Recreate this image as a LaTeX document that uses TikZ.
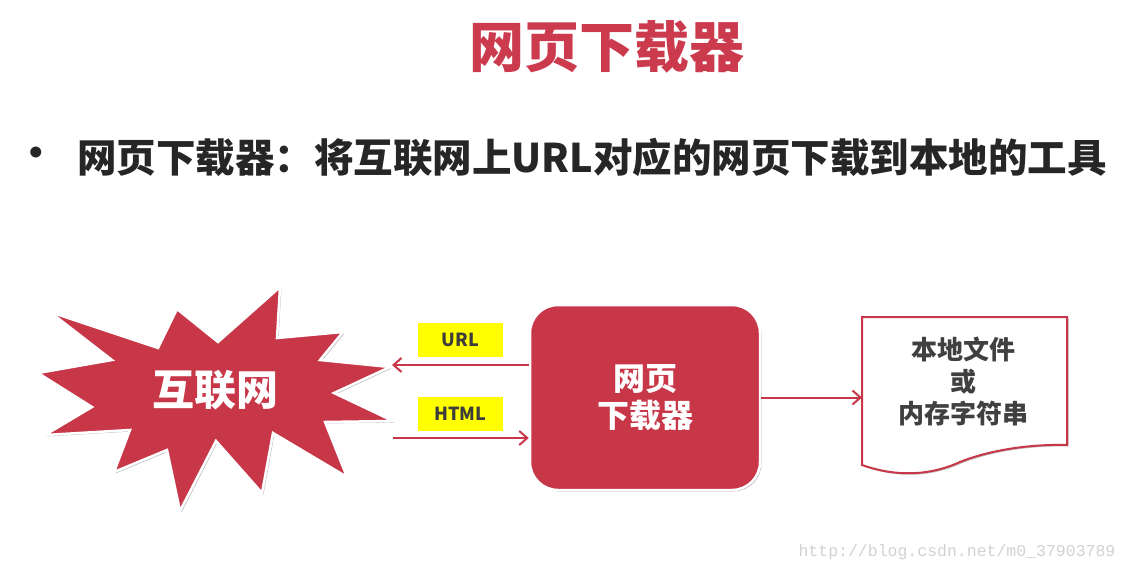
\documentclass[tikz,border=0pt]{standalone}
\usepackage{fontspec}
\newfontfamily\cjk{Noto Sans CJK SC}
\newfontfamily\wmfont{Liberation Mono}
\usetikzlibrary{arrows.meta,shadows}
\definecolor{dlred}{RGB}{200,55,72}
\definecolor{titlered}{RGB}{204,58,78}
\definecolor{textdark}{RGB}{38,38,38}
\definecolor{docgray}{RGB}{64,64,64}
\definecolor{labyellow}{RGB}{255,255,0}
\definecolor{wmgray}{RGB}{210,210,210}
\tikzset{
  myshadow/.style={drop shadow={shadow xshift=1.5pt, shadow yshift=-1.5pt, opacity=0.25, fill=black}},
  titletext/.style={font=\cjk\bfseries\fontsize{55}{60}\selectfont, text=titlered, inner sep=0pt},
  bullettext/.style={font=\cjk\bfseries\fontsize{39.5}{44}\selectfont, text=textdark, inner sep=0pt},
  startext/.style={font=\cjk\bfseries\fontsize{42}{46}\selectfont, text=white, inner sep=0pt},
  dlbox/.style={fill=dlred, draw=white, line width=2.5pt, rounded corners=28pt, minimum width=230pt, minimum height=185pt, align=center, text=white, font=\cjk\bfseries\fontsize{32}{37}\selectfont, myshadow},
  ylab/.style={fill=labyellow, minimum width=85pt, minimum height=34pt, inner sep=0pt, text=textdark!90, font=\cjk\bfseries\fontsize{18}{20}\selectfont},
  docline/.style={draw=dlred, line width=2pt, fill=white, myshadow},
  doctext/.style={align=center, text=docgray, font=\cjk\bfseries\fontsize{26}{32}\selectfont, inner sep=0pt},
  arr/.style={draw=dlred, line width=2pt, -{Straight Barb[length=8pt,width=14pt]}},
  wmtext/.style={font=\wmfont\fontsize{16.5}{18}\selectfont, text=wmgray, inner sep=0pt},
}
\begin{document}
\begin{tikzpicture}[x=1pt,y=-1pt]
\useasboundingbox (0,0) rectangle (1129,572);
\fill[white] (0,0) rectangle (1129,572);

% title
\node[titletext] (title) at (607,47) {网页下载器};

% bullet line
\node[bullettext] (bullet) at (36,157) {•};
\node[bullettext, anchor=west] (line) at (77,157) {网页下载器：将互联网上URL对应的网页下载到本地的工具};

% star (internet)
\draw[fill=dlred, draw=white, line width=2.5pt, line join=miter, myshadow]
  (50,312) -- (158,348) -- (177,309) -- (218,342) -- (280,287) -- (277,338)
  -- (343,332) -- (320,360) -- (390,367) -- (334,393) -- (393,421)
  -- (325,422) -- (347,477) -- (273,433) -- (262,493) -- (216,441)
  -- (180,511) -- (167,450) -- (114,472) -- (130,430) -- (45,435)
  -- (92,407) -- (38,373) -- (112,360) -- cycle;
\node[startext] (inet) at (215,390) {互联网};

% downloader
\node[dlbox] (dl) at (645,397.5) {网页\\下载器};

% labels
\node[ylab] (url) at (460.5,340) {URL};
\node[ylab] (html) at (460.5,413.5) {HTML};

\coordinate (tipU) at (392,365);
\coordinate (tipH) at (393,438);
\draw[arr] (dl.west |- tipU) -- (tipU);
\draw[arr] (tipH) -- (dl.west |- tipH);

% document
\coordinate (docL) at (862,317);
\draw[docline] (docL) -- (1067,317) -- (1067,445)
  .. controls (1030,444) and (990,450) .. (960,462)
  .. controls (925,478) and (890,475) .. (862,465) -- cycle;
\node[doctext] (doc) at (963,381.5) {本地文件\\或\\内存字符串};
\draw[arr] (dl.east) -- (dl.east -| docL);

% watermark
\node[wmtext] (wm) at (957,552) {http://blog.csdn.net/m0\_37903789};
\end{tikzpicture}
\end{document}
